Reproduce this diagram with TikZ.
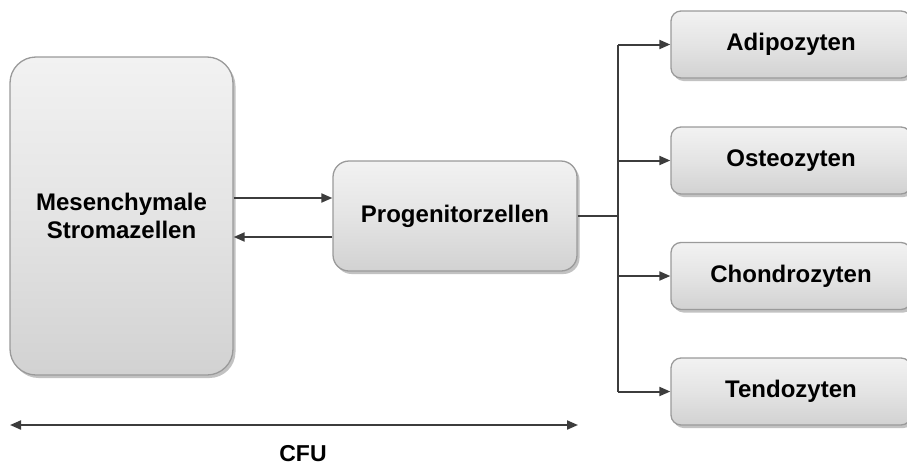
\documentclass[tikz,border=0pt]{standalone}
\usepackage{fontspec}
\setmainfont{Liberation Sans}
\usetikzlibrary{arrows.meta,shadows,calc}
\definecolor{boxfill}{HTML}{E4E4E4}
\definecolor{boxtop}{HTML}{F2F2F2}
\definecolor{boxline}{HTML}{9A9A9A}
\definecolor{conn}{HTML}{3C3C3C}
\tikzset{
  cellbox/.style={draw=boxline, line width=1.3pt, top color=boxtop, bottom color=boxfill!92!black,
    middle color=boxfill, align=center, font=\bfseries\fontsize{24}{28}\selectfont,
    drop shadow={shadow xshift=2.5pt, shadow yshift=-3pt, opacity=0.4, fill=black!60},
    inner sep=0pt},
  conn/.style={draw=conn, line width=2pt},
  arr/.style={conn, -{Triangle[length=11pt,width=9pt]}},
  dblarr/.style={conn, {Triangle[length=11pt,width=9pt]}-{Triangle[length=11pt,width=9pt]}}
}
\begin{document}
\begin{tikzpicture}[x=1pt,y=-1pt]
\useasboundingbox (0,0) rectangle (907,466);
\node[cellbox, rounded corners=26pt, minimum width=223pt, minimum height=318pt] (msc) at (121.5,216) {Mesenchymale\\Stromazellen};
\node[cellbox, rounded corners=16pt, minimum width=244pt, minimum height=110pt] (prog) at (455,216) {Progenitorzellen};
\node[cellbox, rounded corners=10pt, minimum width=240pt, minimum height=67pt] (adi) at (791,44.5) {Adipozyten};
\node[cellbox, rounded corners=10pt, minimum width=240pt, minimum height=67pt] (ost) at (791,160.5) {Osteozyten};
\node[cellbox, rounded corners=10pt, minimum width=240pt, minimum height=67pt] (cho) at (791,276) {Chondrozyten};
\node[cellbox, rounded corners=10pt, minimum width=240pt, minimum height=67pt] (ten) at (791,391.5) {Tendozyten};
\draw[arr] ([yshift=18pt]msc.east) -- ([yshift=18pt]prog.west);
\draw[arr] ([yshift=-21pt]prog.west) -- ([yshift=-21pt]msc.east);
\coordinate (br) at (618,216);
\coordinate (brtop) at (618,44.5);
\coordinate (brbot) at (618,391.5);
\draw[conn] (prog.east) -- (br);
\draw[conn] (brtop) -- (brbot);
\draw[arr] (brtop) -- (adi.west);
\draw[arr] (br |- ost.west) -- (ost.west);
\draw[arr] (br |- cho.west) -- (cho.west);
\draw[arr] (brbot) -- (ten.west);
\coordinate (cfuL) at (10,425);
\coordinate (cfuR) at (578,425);
\draw[dblarr] (cfuL) -- (cfuR);
\node[font=\bfseries\fontsize{23}{28}\selectfont, anchor=base, inner sep=0pt] (cfu) at (303,461) {CFU};
\end{tikzpicture}
\end{document}
